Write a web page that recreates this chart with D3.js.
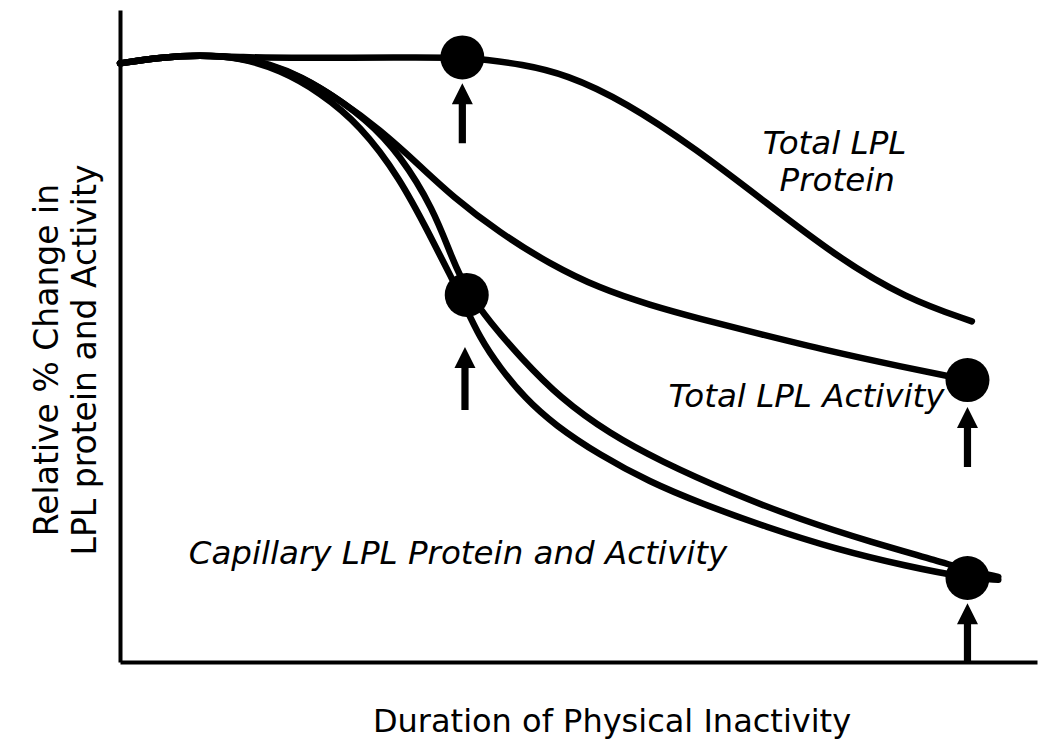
<!DOCTYPE html>
<html>
<head>
<meta charset="utf-8">
<script src="https://cdn.jsdelivr.net/npm/d3@7/dist/d3.min.js"></script>
<style>
  html, body { margin: 0; padding: 0; background: #fff; }
  svg { display: block; }
  text { font-family: "DejaVu Sans", Verdana, sans-serif; fill: #000; }
</style>
</head>
<body>
<div id="chart"></div>
<script>
// Schematic: relative change of LPL during physical inactivity (arbitrary units)
// x = duration (0..104), y = relative % (0..108.7), baseline level = 100

const totalProteinX = [0, 4.5, 9.1, 13.6, 20.5, 31.8, 38.9, 41.5, 45.5, 50.7, 57.4, 65.5, 73.4, 81.4, 89.3, 96.8];
const totalProteinY = [99.8, 100.8, 101.2, 100.8, 100.7, 100.8, 100.8, 100.4, 99.7, 98, 93.4, 85.5, 76.6, 67.6, 60.6, 56.8];

const totalActivityX = [0, 4.5, 9.1, 13.6, 17, 20.5, 25, 29.5, 34.1, 37.7, 43.2, 48.9, 54.5, 60.2, 65.9, 72.7, 80.7, 88.6, 96.3];
const totalActivityY = [99.8, 100.8, 101.2, 100.8, 99.7, 97.7, 93.7, 88.8, 82.7, 77.7, 71.5, 66.3, 62.3, 59.5, 57.2, 54.7, 51.8, 49.3, 47];

const capillaryAX = [0, 4.5, 9.1, 13.6, 18.2, 22.7, 27.3, 31.8, 35.2, 37.8, 39, 40.9, 43.2, 46, 49.4, 54.5, 60.2, 65.9, 73.4, 81.4, 89.3, 96.3, 99.8];
const capillaryAY = [99.8, 100.8, 101.2, 100.8, 98.7, 95, 89.5, 80.7, 71.2, 63.7, 60, 54, 49, 44, 39.5, 34.5, 30, 26.5, 22.5, 18.8, 16, 14, 13.7];

const capillaryBX = [0, 4.5, 9.1, 13.6, 18.2, 22.7, 28.1, 31.8, 35.6, 37.8, 39.4, 42, 45.5, 50, 55.7, 61.4, 69.4, 77.4, 85.3, 93.3, 96.3, 99.8];
const capillaryBY = [99.8, 100.8, 101.2, 100.8, 99.1, 96, 90.4, 84.6, 75.6, 67, 62, 56.7, 50.8, 44, 38, 33.5, 28.2, 23.7, 20, 16.7, 15.3, 14.2];

// highlighted time points (dots) and arrows under them
const markerX = [38.9, 39.4, 96.3, 96.3];
const markerY = [100.8, 61.2, 47, 14];
const arrowX = [38.9, 39.2, 96.3, 96.3];
const arrowTipY = [96.5, 52.5, 42.5, 9.8];
const arrowTailY = [86.5, 42, 32.5, -0.2];

// curve labels
const labelText = ['Total LPL', 'Protein', 'Total LPL Activity', 'Capillary LPL Protein and Activity'];
const labelX = [81.2, 81.5, 78.0, 38.4];
const labelY = [84.7, 78.5, 42.5, 16.3];

const xTitle = 'Duration of Physical Inactivity';
const yTitle = ['Relative % Change in', 'LPL protein and Activity'];

const xMax = 104.2;
const yMax = 108.7;

const width = 1050;
const height = 756;
const margin = { top: 10, right: 13, bottom: 94, left: 120 };

const svg = d3.select('#chart')
  .append('svg')
  .attr('width', width)
  .attr('height', height);

const x = d3.scaleLinear().domain([0, xMax]).range([margin.left, width - margin.right]);
const y = d3.scaleLinear().domain([0, yMax]).range([height - margin.bottom, margin.top]);

const zip = (xs, ys) => xs.map((v, i) => [v, ys[i]]);
const series = [
  zip(totalProteinX, totalProteinY),
  zip(totalActivityX, totalActivityY),
  zip(capillaryAX, capillaryAY),
  zip(capillaryBX, capillaryBY)
];

// axes, no ticks
svg.append('g')
  .attr('transform', `translate(0,${y(0)})`)
  .call(d3.axisBottom(x).ticks(0).tickSizeOuter(0))
  .select('.domain')
  .attr('stroke', '#000')
  .attr('stroke-width', 4);

svg.append('g')
  .attr('transform', `translate(${x(0)},0)`)
  .call(d3.axisLeft(y).ticks(0).tickSizeOuter(0))
  .select('.domain')
  .attr('stroke', '#000')
  .attr('stroke-width', 4);

// curves
const line = d3.line()
  .x(d => x(d[0]))
  .y(d => y(d[1]))
  .curve(d3.curveBasis);

svg.append('g')
  .selectAll('path')
  .data(series)
  .join('path')
  .attr('d', line)
  .attr('fill', 'none')
  .attr('stroke', '#000')
  .attr('stroke-width', 6.5)
  .attr('stroke-linecap', 'round')
  .attr('stroke-linejoin', 'round');

// dots
svg.append('g')
  .selectAll('circle')
  .data(markerX)
  .join('circle')
  .attr('cx', d => x(d))
  .attr('cy', (d, i) => y(markerY[i]))
  .attr('r', 22)
  .attr('fill', '#000');

// arrows pointing up at the dots
const headLen = 21, headHalf = 10.5, shaftHalf = 3.6;
svg.append('g')
  .selectAll('path')
  .data(arrowX)
  .join('path')
  .attr('d', (d, i) => {
    const cx = x(d), tip = y(arrowTipY[i]), tail = y(arrowTailY[i]);
    const base = tip + headLen;
    return `M${cx},${tip}L${cx + headHalf},${base}L${cx + shaftHalf},${base}` +
      `L${cx + shaftHalf},${tail}L${cx - shaftHalf},${tail}L${cx - shaftHalf},${base}` +
      `L${cx - headHalf},${base}Z`;
  })
  .attr('fill', '#000');

// curve labels
svg.append('g')
  .selectAll('text')
  .data(labelText)
  .join('text')
  .attr('x', (d, i) => x(labelX[i]))
  .attr('y', (d, i) => y(labelY[i]))
  .attr('text-anchor', 'middle')
  .style('font-style', 'italic')
  .style('font-size', '32.5px')
  .text(d => d);

// axis titles
svg.append('text')
  .attr('x', 612)
  .attr('y', 732)
  .attr('text-anchor', 'middle')
  .style('font-size', '32px')
  .text(xTitle);

svg.append('g')
  .attr('transform', 'translate(0,360) rotate(-90)')
  .selectAll('text')
  .data(yTitle)
  .join('text')
  .attr('x', 0)
  .attr('y', (d, i) => 58 + i * 38)
  .attr('text-anchor', 'middle')
  .style('font-size', '33px')
  .text(d => d);
</script>
</body>
</html>
